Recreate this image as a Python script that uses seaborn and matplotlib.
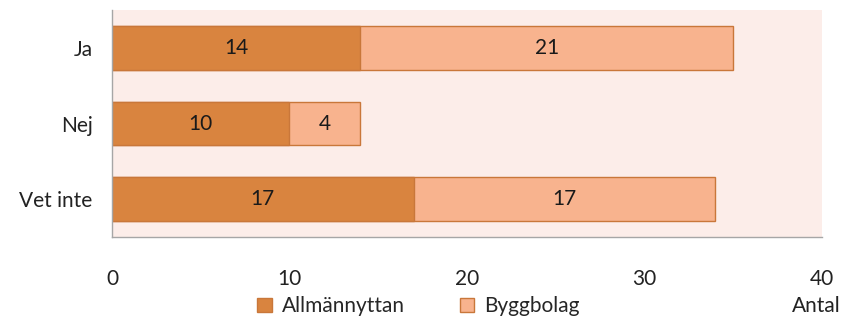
import pandas as pd
import matplotlib.pyplot as plt
import seaborn as sns
from matplotlib.patches import Patch

categories = ["Ja", "Nej", "Vet inte"]
allmannyttan = [14, 10, 17]
byggbolag = [21, 4, 17]

dark = "#D9843F"
light = "#F8B38E"
edge = "#C9773A"
bg = "#FCEDE9"

sns.set_theme(style="white")
plt.rcParams["font.family"] = ["Lato", "DejaVu Sans"]

df = pd.DataFrame({"kategori": categories, "Allmännyttan": allmannyttan, "Byggbolag": byggbolag})
df["total"] = df["Allmännyttan"] + df["Byggbolag"]

fig = plt.figure(figsize=(8.58, 3.2), dpi=100)
ax = fig.add_axes([0.1305, 0.259, 0.8275, 0.710])
ax.set_facecolor(bg)

# stacked: total in light first, then the first series on top
sns.barplot(data=df, x="total", y="kategori", orient="h", color=light, width=0.58,
            edgecolor=edge, linewidth=1, saturation=1, ax=ax)
sns.barplot(data=df, x="Allmännyttan", y="kategori", orient="h", color=dark, width=0.58,
            edgecolor=edge, linewidth=1, saturation=1, ax=ax)

fs = 15
for i, row in df.iterrows():
    ax.text(row["Allmännyttan"] / 2, i, str(row["Allmännyttan"]), ha="center", va="center",
            fontsize=fs, color="#1a1a1a")
    ax.text(row["Allmännyttan"] + row["Byggbolag"] / 2, i, str(row["Byggbolag"]), ha="center",
            va="center", fontsize=fs, color="#1a1a1a")

ax.set_xlim(0, 40)
ax.set_ylim(2.5, -0.5)
ax.set_xticks([0, 10, 20, 30, 40])
ax.set_xlabel("")
ax.set_ylabel("")
ax.tick_params(axis="x", length=0, pad=23, labelsize=fs, colors="#222222")
ax.tick_params(axis="y", length=0, pad=14, labelsize=fs, colors="#222222")
for s in ["top", "right"]:
    ax.spines[s].set_visible(False)
for s in ["left", "bottom"]:
    ax.spines[s].set_color("#A6A6A6")
    ax.spines[s].set_linewidth(1)

handles = [Patch(facecolor=dark, edgecolor=edge, label="Allmännyttan"),
           Patch(facecolor=light, edgecolor=edge, label="Byggbolag")]
fig.legend(handles=handles, loc="center", bbox_to_anchor=(0.488, 0.043), ncol=2, frameon=False,
           fontsize=fs, handlelength=0.7, handleheight=0.7, handletextpad=0.5, columnspacing=2.6)
fig.text(0.98, 0.045, "Antal", ha="right", va="center", fontsize=fs, color="#222222")

fig.savefig("out.png", dpi=100)
